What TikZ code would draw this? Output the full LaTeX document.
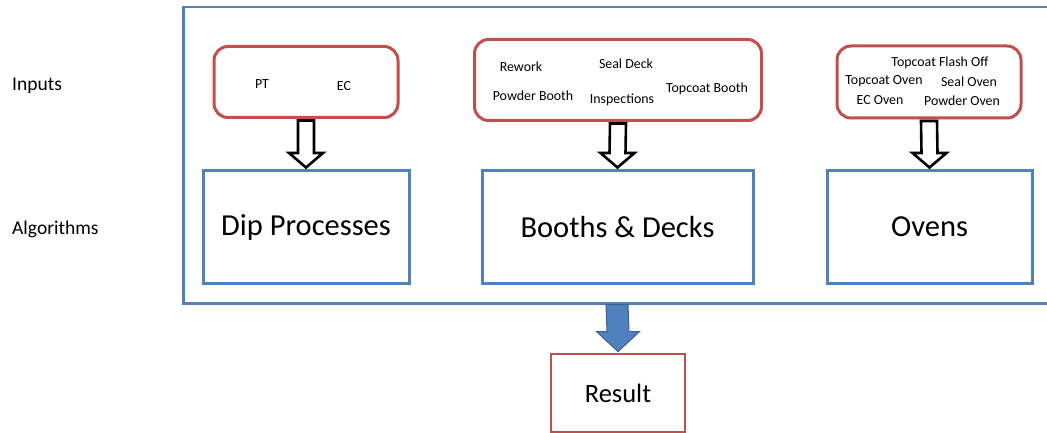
\documentclass[tikz,border=0pt]{standalone}
\usepackage{fontspec}
\setmainfont{Carlito}
\usetikzlibrary{calc,shadows}
\definecolor{obl}{HTML}{4F81BD}
\definecolor{ored}{HTML}{C0504D}
\newcommand{\lowr}[1]{\raisebox{-3pt}{#1}}
\begin{document}
\begin{tikzpicture}[x=1pt,y=-1pt,
  sh/.style={drop shadow={opacity=0.3,shadow xshift=1pt,shadow yshift=-1.5pt}},
  inbox/.style={draw=ored,line width=3pt,rounded corners=14pt,fill=white,sh},
  algbox/.style={draw=obl,line width=3pt,fill=white,sh,font=\fontsize{30.5}{34}\selectfont},
  resbox/.style={draw=ored,line width=2.8pt,fill=white,font=\fontsize{26.5}{30}\selectfont},
  small/.style={font=\fontsize{13.9}{16}\selectfont,inner sep=0pt,yshift=-1.5pt},
  side/.style={font=\fontsize{19.5}{22}\selectfont,anchor=west,inner sep=0pt,yshift=-2pt},
  hollow/.style={draw=black,line width=2.6pt,fill=white,line join=miter},
  bluearr/.style={draw=obl!75!black,line width=1pt,fill=obl}]
\useasboundingbox (0,0) rectangle (1047,433);
\begin{scope}
\clip (0,0) rectangle (1047,433);
\draw[obl,line width=2.8pt] (1060,7) -- (183.5,7) -- (183.5,303.5) -- (1060,303.5);
\end{scope}
% labels
\node[side] (lin) at (12,84) {Inputs};
\node[side] (lalg) at (12,227) {Algorithms};
% input boxes
\node[inbox,minimum width=184pt,minimum height=71pt] (in1) at (306,82) {};
\node[inbox,minimum width=287pt,minimum height=81pt] (in2) at (618,80) {};
\node[inbox,minimum width=184pt,minimum height=72pt] (in3) at (929,82) {};
% algorithm boxes
\node[algbox,minimum width=206pt,minimum height=113pt] (a1) at (306,227) {\lowr{Dip Processes}};
\node[algbox,minimum width=271pt,minimum height=113pt] (a2) at (617.5,227) {\lowr{Booths \& Decks}};
\node[algbox,minimum width=205pt,minimum height=113pt] (a3) at (929.5,227) {\lowr{Ovens}};
% result
\node[resbox,minimum width=134pt,minimum height=78pt] (res) at (618,393) {\lowr{Result}};
\coordinate (outb) at (617,304.5);
% small texts
\node[small] (tpt) at (262,83) {PT};
\node[small] (tec) at (344,85) {EC};
\node[small] (trw) at (521,65) {Rework};
\node[small] (tsd) at (626,62) {Seal Deck};
\node[small] (tpb) at (533,94) {Powder Booth};
\node[small] (tin) at (622,98) {Inspections};
\node[small] (ttb) at (707,87) {Topcoat Booth};
\node[small] (tfo) at (940,61) {Topcoat Flash Off};
\node[small] (tto) at (884,80) {Topcoat Oven};
\node[small] (tso) at (969,80) {Seal Oven};
\node[small] (teo) at (880,99) {EC Oven};
\node[small] (tpo) at (962,99) {Powder Oven};
% hollow arrows
\foreach \s/\t in {in1/a1,in2/a2,in3/a3}{
  \draw[hollow] ($(\s.south)+(-8,1.5)$) -- ($(\t.north)+(-8,-16)$) -- ($(\t.north)+(-17,-16)$)
    -- ($(\t.north)+(0,-1.5)$) -- ($(\t.north)+(17,-16)$) -- ($(\t.north)+(8,-16)$)
    -- ($(\s.south)+(8,1.5)$) -- cycle;
}
% blue arrow
\draw[bluearr] ($(outb)+(-11,0)$) -- ($(res.north)+(-11,-21)$) -- ($(res.north)+(-21.5,-21)$)
  -- ($(res.north)+(0,-1)$) -- ($(res.north)+(21.5,-21)$) -- ($(res.north)+(11,-21)$)
  -- ($(outb)+(11,0)$) -- cycle;
\end{tikzpicture}
\end{document}
